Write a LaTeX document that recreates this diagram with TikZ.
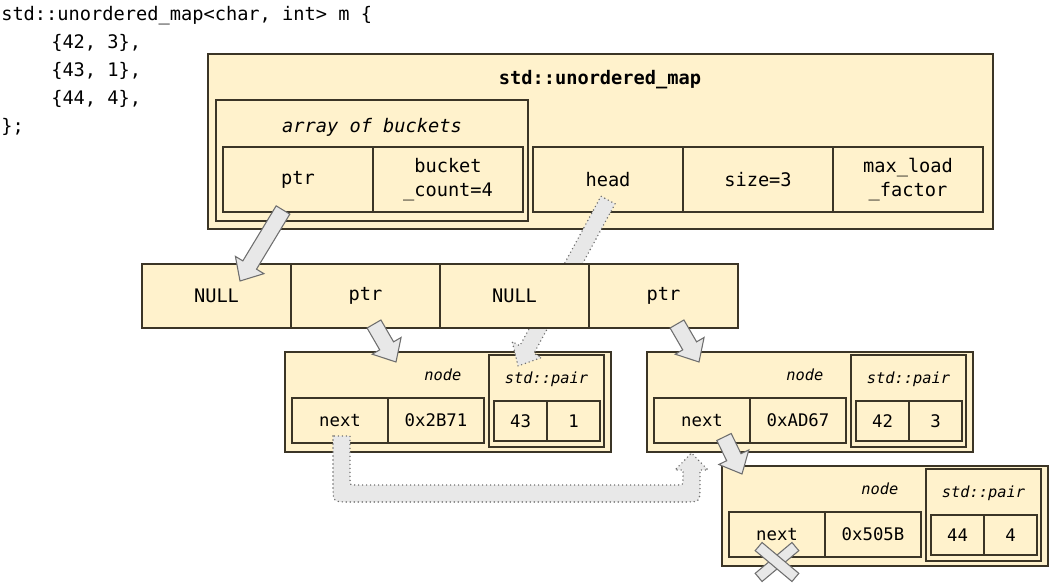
\documentclass[tikz,border=0pt]{standalone}
\usepackage{fontspec}
\setmonofont{DejaVu Sans Mono}
\usetikzlibrary{positioning, calc}
\definecolor{boxfill}{HTML}{FFF2CC}
\definecolor{boxline}{HTML}{3B3526}
\definecolor{arrowfill}{HTML}{E8E8E8}
\definecolor{arrowline}{HTML}{6E6E6E}
\tikzset{
x=0.75pt, y=-0.75pt, % one unit is one pixel of the reference, y grows downwards
container/.style={draw=boxline, fill=boxfill, line width=1.2pt, inner sep=0pt, outer sep=0pt}, % the big boxes
cell/.style={container, line width=1pt, minimum width=112.5pt, minimum height=48.75pt, align=center,
  font=\ttfamily\fontsize{14}{18}\selectfont}, % fields of the map
bucket/.style={cell, minimum width=111.75pt, minimum height=48pt}, % the bucket array
field/.style={cell, minimum width=72pt, minimum height=33.75pt, font=\ttfamily\fontsize{13}{16}\selectfont}, % fields of a list node
paircell/.style={field, minimum width=39.75pt, minimum height=30pt},
title/.style={font=\ttfamily\bfseries\fontsize{14}{18}\selectfont},
bigtag/.style={font=\ttfamily\itshape\fontsize{14}{18}\selectfont},
tag/.style={font=\ttfamily\itshape\fontsize{11.5}{14}\selectfont}, % small italic captions
code/.style={font=\ttfamily\fontsize{14}{21}\selectfont, inner sep=0pt, anchor=base west},
fat/.style={draw=arrowline, fill=arrowfill, line width=0.8pt, line join=miter}, % solid block arrows
dots/.style={draw=arrowline, fill=arrowfill, line width=1.2pt, dash pattern=on 0pt off 3pt, line cap=round}, % dotted block arrows
xbar/.style={draw=arrowline, fill=arrowfill, line width=0.8pt, minimum width=36pt, minimum height=8pt, inner sep=0pt},
}
% block arrow from #2 to #3
\newcommand{\fatarrow}[3][fat]{%
  \coordinate (fa-h) at ($(#3)!14pt!(#2)$);
  \path[#1] ($(#2)!6pt!90:(#3)$) -- ($(fa-h)!6pt!90:(#3)$) -- ($(fa-h)!12.5pt!90:(#3)$) -- (#3)
    -- ($(fa-h)!12.5pt!-90:(#3)$) -- ($(fa-h)!6pt!-90:(#3)$) -- ($(#2)!6pt!-90:(#3)$) -- cycle;}

\begin{document}
\begin{tikzpicture}
\useasboundingbox (0,0) rectangle (1056,584);

% the source code
\node[code] (line1) at (1,21) {std::unordered\_map<char, int> m \{};
\node[code] (line2) at (51,49) {\{42, 3\},};
\node[code] (line3) at (51,77) {\{43, 1\},};
\node[code] (line4) at (51,105) {\{44, 4\},};
\node[code] (line5) at (1,133) {\};};

% the map object
\node[container, line width=1.4pt, minimum width=588.75pt, minimum height=131.25pt, anchor=north west] (map) at (208,54) {};
\node[title] (maptitle) at (600,80) {std::unordered\_map};
\node[container, minimum width=234pt, minimum height=90.75pt, anchor=north west] (buckets) at (216,100) {};
\node[bigtag] (bucketstitle) at (372,127) {array of buckets};
\node[cell] (bptr) at (298,179.5) {ptr};
\node[cell, right=0pt of bptr] (bcount) {bucket\\\_count=4};
\node[cell] (head) at (608,179.5) {head};
\node[cell, right=0pt of head] (size) {size=3};
\node[cell, right=0pt of size] (maxload) {max\_load\\\_factor};

% first list node
\node[container, minimum width=244.5pt, minimum height=75pt, anchor=north west] (node1) at (285,352) {};
\node[tag, anchor=east] (node1tag) at (466,375) {node};
\node[field] (next1) at (340,420.5) {next};
\node[field, right=0pt of next1] (addr1) {0x2B71};
\node[container, line width=1pt, minimum width=86.25pt, minimum height=69pt, anchor=north west] (pair1) at (489,355) {};
\node[tag] (pair1tag) at (546.5,379) {std::pair};
\node[paircell] (key1) at (520.5,421) {43};
\node[paircell, right=0pt of key1] (val1) {1};

% second list node
\node[container, minimum width=244.5pt, minimum height=75pt, anchor=north west] (node2) at (647,352) {};
\node[tag, anchor=east] (node2tag) at (828,375) {node};
\node[field] (next2) at (702,420.5) {next};
\node[field, right=0pt of next2] (addr2) {0xAD67};
\node[container, line width=1pt, minimum width=86.25pt, minimum height=69pt, anchor=north west] (pair2) at (851,355) {};
\node[tag] (pair2tag) at (908.5,379) {std::pair};
\node[paircell] (key2) at (882.5,421) {42};
\node[paircell, right=0pt of key2] (val2) {3};

% third list node
\node[container, minimum width=244.5pt, minimum height=75pt, anchor=north west] (node3) at (722,466) {};
\node[tag, anchor=east] (node3tag) at (903,489) {node};
\node[field] (next3) at (777,534.5) {next};
\node[field, right=0pt of next3] (addr3) {0x505B};
\node[container, line width=1pt, minimum width=86.25pt, minimum height=69pt, anchor=north west] (pair3) at (926,469) {};
\node[tag] (pair3tag) at (983.5,493) {std::pair};
\node[paircell] (key3) at (957.5,535) {44};
\node[paircell, right=0pt of key3] (val3) {4};

% dotted arrows, partly hidden by the bucket array
\coordinate (head-out) at ([shift={(0,20.5)}]head.center);
\coordinate (pair1-in) at ([shift={(29,11)}]pair1.north west);
\fatarrow[dots]{head-out}{pair1-in}
\draw[dots] ([shift={(-7,15.5)}]next1.center) -- (333,486) .. controls (333,502) .. (349,502) -- (684,502)
  .. controls (700,502) .. (700,486) -- (700,470) -- (708,470) -- (691.5,453) -- (675,470) -- (683,470)
  -- (683,479) .. controls (683,485) .. (677,485) -- (356,485) .. controls (350,485) .. (350,479)
  -- ([shift={(10,15.5)}]next1.center) -- cycle;

% the bucket array
\node[bucket] (b0) at (216.5,296) {NULL};
\node[bucket, right=0pt of b0] (b1) {ptr};
\node[bucket, right=0pt of b1] (b2) {NULL};
\node[bucket, right=0pt of b2] (b3) {ptr};

% solid arrows
\coordinate (bptr-out) at ([shift={(-15,30.5)}]bptr.center);
\coordinate (b0-in) at ([shift={(98,17)}]b0.north west);
\fatarrow{bptr-out}{b0-in}
\coordinate (b1-out) at ([shift={(8.5,28)}]b1.center);
\coordinate (node1-in) at ([shift={(111,10)}]node1.north west);
\fatarrow{b1-out}{node1-in}
\coordinate (b3-out) at ([shift={(13.5,28)}]b3.center);
\coordinate (node2-in) at ([shift={(52,10)}]node2.north west);
\fatarrow{b3-out}{node2-in}
\coordinate (next2-out) at ([shift={(22,16.5)}]next2.center);
\coordinate (node3-in) at ([shift={(20,8)}]node3.north west);
\fatarrow{next2-out}{node3-in}

% the end of the list
\node[xbar, rotate=40] (cross1) at ([shift={(0,27.5)}]next3.center) {};
\node[xbar, rotate=-40] (cross2) at ([shift={(0,27.5)}]next3.center) {};
\end{tikzpicture}
\end{document}
